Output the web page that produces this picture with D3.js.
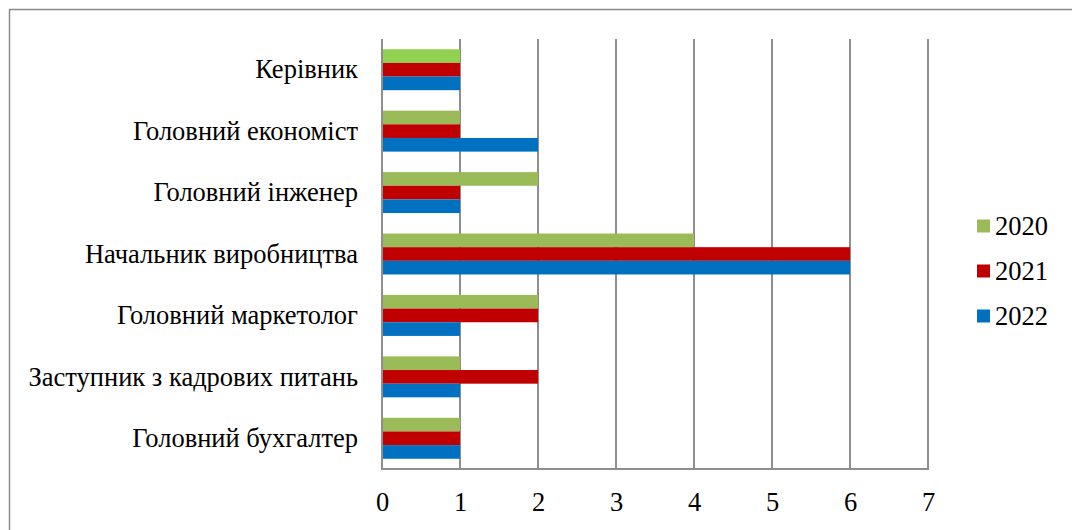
<!DOCTYPE html>
<html>
<head>
<meta charset="utf-8">
<script src="https://cdn.jsdelivr.net/npm/d3@7"></script>
<style>
  html, body { margin: 0; padding: 0; background: #fff; }
  svg { display: block; }
</style>
</head>
<body>
<svg id="chart" width="1072" height="530"></svg>
<script>
// Positions by year, top to bottom
const categories = [
  "Керівник",
  "Головний економіст",
  "Головний інженер",
  "Начальник виробництва",
  "Головний маркетолог",
  "Заступник з кадрових питань",
  "Головний бухгалтер"
];
const seriesNames = ["2020", "2021", "2022"];
const values2020 = [1, 1, 2, 4, 2, 1, 1];
const values2021 = [1, 1, 1, 6, 2, 2, 1];
const values2022 = [1, 2, 1, 6, 1, 1, 1];
const xTicks = [0, 1, 2, 3, 4, 5, 6, 7];

const seriesValues = [values2020, values2021, values2022];
const seriesColors = ["#9BBB59", "#C00000", "#0070C0"];
// the first 2020 bar carries its own brighter fill
const pointColors = { "0-0": "#92D050" };

const FONT = "Liberation Serif";
const FONT_SIZE = "26.5px";

const svg = d3.select("#chart");
const plotLeft = 382, plotRight = 928, plotTop = 39, plotBottom = 469;

// outer chart frame
svg.append("rect")
  .attr("x", 9.5).attr("y", 9.5)
  .attr("width", 1080).attr("height", 540)
  .attr("fill", "none").attr("stroke", "#8a8a8a").attr("stroke-width", 1.5);

const x = d3.scaleLinear().domain([0, 7]).range([plotLeft, plotRight]);
const y = d3.scaleBand().domain(categories).range([plotTop, plotBottom]).paddingInner(0).paddingOuter(0);

// bar group occupies ~2/3 of each band, 1.5 bar-widths gap
const barH = y.bandwidth() / 4.5;
const groupOffset = (y.bandwidth() - 3 * barH) / 2;

// vertical gridlines
svg.append("g")
  .selectAll("line")
  .data(xTicks)
  .join("line")
  .attr("x1", d => x(d)).attr("x2", d => x(d))
  .attr("y1", plotTop).attr("y2", plotBottom)
  .attr("stroke", "#8e8e8e").attr("stroke-width", 2);

// bars
const rows = [];
categories.forEach((c, i) => {
  seriesValues.forEach((vals, s) => {
    rows.push({ cat: c, ci: i, s, v: vals[i] });
  });
});
svg.append("g")
  .selectAll("rect")
  .data(rows)
  .join("rect")
  .attr("x", x(0) + 1)
  .attr("y", d => y(d.cat) + groupOffset + d.s * barH)
  .attr("width", d => x(d.v) - x(0) - 1)
  .attr("height", barH)
  .attr("fill", d => pointColors[d.ci + "-" + d.s] || seriesColors[d.s]);

// bottom axis line
svg.append("line")
  .attr("x1", plotLeft - 1).attr("x2", plotRight + 1)
  .attr("y1", plotBottom).attr("y2", plotBottom)
  .attr("stroke", "#8e8e8e").attr("stroke-width", 2);

// x axis via d3 axis, styled to plain labels
const xAxis = svg.append("g")
  .attr("transform", `translate(0,${plotBottom})`)
  .call(d3.axisBottom(x).tickValues(xTicks).tickFormat(d3.format("d")).tickSize(0).tickPadding(0));
xAxis.select(".domain").remove();
xAxis.selectAll("text")
  .attr("y", 42).attr("dy", 0)
  .attr("fill", "#000")
  .style("font-family", FONT)
  .style("font-size", FONT_SIZE);

// category axis
const yAxis = svg.append("g")
  .attr("transform", `translate(${plotLeft},0)`)
  .call(d3.axisLeft(y).tickSize(0).tickPadding(24));
yAxis.select(".domain").remove();
yAxis.selectAll("text")
  .attr("dy", "0.33em")
  .attr("fill", "#000")
  .style("font-family", FONT)
  .style("font-size", FONT_SIZE);

// legend
const legend = svg.append("g");
const legendY = [226, 271, 316];
seriesNames.forEach((name, i) => {
  legend.append("rect")
    .attr("x", 977).attr("y", legendY[i] - 6.5)
    .attr("width", 13).attr("height", 13)
    .attr("fill", seriesColors[i]);
  legend.append("text")
    .attr("x", 995).attr("y", legendY[i])
    .attr("dy", "0.35em")
    .attr("fill", "#000")
    .style("font-family", FONT)
    .style("font-size", FONT_SIZE)
    .text(name);
});
</script>
</body>
</html>
